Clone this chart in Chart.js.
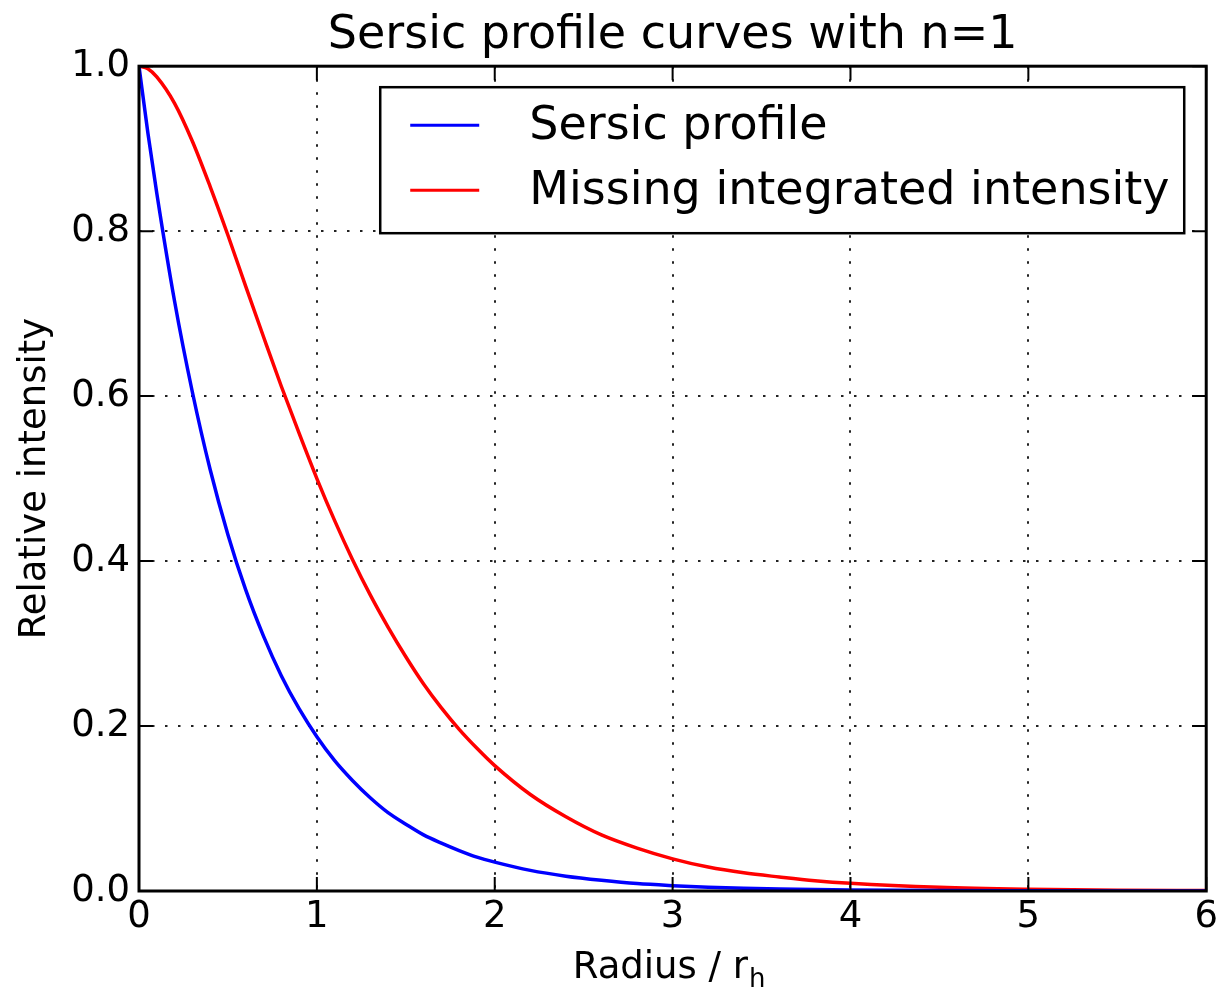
<!DOCTYPE html>
<html lang="en">
  <head>
    <meta charset="UTF-8" />
    <title>Sersic profile curves with n=1</title>
    <script src="https://cdn.jsdelivr.net/npm/chart.js"></script>
    <style>
      html, body { margin: 0; padding: 0; background: #fff; }
      #chart-box { width: 1222px; height: 989px; }
    </style>
    <script>
      const radii = [
        0, 0.05, 0.1, 0.2, 0.3, 0.4, 0.5, 0.6, 0.7, 0.8, 0.9, 1.0,
        1.1, 1.2, 1.3, 1.4, 1.5, 1.6, 1.7, 1.8, 1.9, 2.0,
        2.2, 2.4, 2.6, 2.8, 3.0, 3.2, 3.4, 3.6, 3.8, 4.0,
        4.5, 5.0, 5.5, 6.0,
      ];
      const sersicProfile = [
        1.0, 0.919, 0.846, 0.715, 0.605, 0.511, 0.432, 0.365, 0.309, 0.261, 0.221, 0.187,
        0.158, 0.134, 0.113, 0.095, 0.081, 0.068, 0.058, 0.049, 0.041, 0.035,
        0.025, 0.018, 0.013, 0.009, 0.0065, 0.0046, 0.0033, 0.0024, 0.0017, 0.0012,
        0.0005, 0.0002, 0.0001, 0.0,
      ];
      const missingIntensity = [
        1.0, 0.997, 0.987, 0.955, 0.909, 0.854, 0.795, 0.733, 0.672, 0.612, 0.555, 0.5,
        0.449, 0.402, 0.359, 0.320, 0.284, 0.251, 0.222, 0.196, 0.173, 0.152,
        0.117, 0.090, 0.068, 0.052, 0.039, 0.029, 0.022, 0.017, 0.0125, 0.0093,
        0.0044, 0.0021, 0.001, 0.0005,
      ];
      const seriesNames = ["Sersic profile", "Missing integrated intensity"];
      const seriesColors = ["#0000ff", "#ff0000"];
      const xTicks = [0, 1, 2, 3, 4, 5, 6];
      const yTicks = [0, 0.2, 0.4, 0.6, 0.8, 1.0];

      const FONT = "'DejaVu Sans', sans-serif";

      const toPoints = (ys) => radii.map((r, i) => ({ x: r, y: ys[i] }));

      // frame round the plot plus matplotlib-style inward ticks
      const framePlugin = {
        id: "frame",
        afterDatasetsDraw(chart) {
          const { ctx, chartArea: a, scales } = chart;
          ctx.save();
          ctx.strokeStyle = "#000";
          ctx.lineWidth = 2;
          const tl = 14;
          ctx.beginPath();
          scales.x.ticks.forEach((t) => {
            const px = scales.x.getPixelForValue(t.value);
            ctx.moveTo(px, a.bottom);
            ctx.lineTo(px, a.bottom - tl);
            ctx.moveTo(px, a.top);
            ctx.lineTo(px, a.top + tl);
          });
          scales.y.ticks.forEach((t) => {
            const py = scales.y.getPixelForValue(t.value);
            ctx.moveTo(a.left, py);
            ctx.lineTo(a.left + tl, py);
            ctx.moveTo(a.right, py);
            ctx.lineTo(a.right - tl, py);
          });
          ctx.stroke();
          ctx.lineWidth = 3;
          ctx.strokeRect(a.left, a.top, a.right - a.left, a.bottom - a.top);
          ctx.restore();
        },
      };

      // boxed legend inside the upper right of the plot
      const legendPlugin = {
        id: "boxLegend",
        afterDraw(chart) {
          const { ctx, chartArea: a } = chart;
          const w = 804, h = 146;
          const x0 = a.right - 22 - w;
          const y0 = a.top + 21;
          ctx.save();
          ctx.fillStyle = "#fff";
          ctx.fillRect(x0, y0, w, h);
          ctx.strokeStyle = "#000";
          ctx.lineWidth = 2.5;
          ctx.strokeRect(x0, y0, w, h);
          ctx.font = "46px " + FONT;
          ctx.textBaseline = "middle";
          ctx.textAlign = "left";
          chart.data.datasets.forEach((ds, i) => {
            const cy = y0 + 38 + i * 65;
            ctx.strokeStyle = ds.borderColor;
            ctx.lineWidth = 3;
            ctx.beginPath();
            ctx.moveTo(x0 + 30, cy);
            ctx.lineTo(x0 + 99, cy);
            ctx.stroke();
            ctx.fillStyle = "#000";
            ctx.fillText(ds.label, x0 + 149, cy + 2);
          });
          ctx.restore();
        },
      };

      // axis titles (x one carries a subscript)
      const axisTitlesPlugin = {
        id: "axisTitles",
        afterDraw(chart) {
          const { ctx, chartArea: a } = chart;
          ctx.save();
          ctx.fillStyle = "#000";
          ctx.textBaseline = "alphabetic";
          const main = "Radius / r";
          ctx.font = "37px " + FONT;
          const mw = ctx.measureText(main).width;
          ctx.font = "26px " + FONT;
          const sw = ctx.measureText("h").width;
          const cx = (a.left + a.right) / 2 - 4;
          const start = cx - (mw + sw) / 2;
          ctx.font = "37px " + FONT;
          ctx.textAlign = "left";
          ctx.fillText(main, start, 978);
          ctx.font = "26px " + FONT;
          ctx.fillText("h", start + mw + 1, 987);

          ctx.translate(45, (a.top + a.bottom) / 2);
          ctx.rotate(-Math.PI / 2);
          ctx.font = "37px " + FONT;
          ctx.textAlign = "center";
          ctx.fillText("Relative intensity", 0, 0);
          ctx.restore();
        },
      };

      function drawSersicChart() {
        const datasets = [sersicProfile, missingIntensity].map((ys, i) => ({
          label: seriesNames[i],
          data: toPoints(ys),
          borderColor: seriesColors[i],
          backgroundColor: seriesColors[i],
          borderWidth: 3.5,
          pointRadius: 0,
          fill: false,
          cubicInterpolationMode: "monotone",
        }));

        const gridStyle = { color: "#222", lineWidth: 2, drawTicks: false };
        const dotted = { display: false, dash: [2.5, 10.5] };

        const config = {
          type: "line",
          data: { datasets: datasets },
          options: {
            responsive: false,
            animation: false,
            events: [],
            layout: { padding: { left: 0, right: 15, top: 0, bottom: 0 } },
            plugins: {
              legend: { display: false },
              tooltip: { enabled: false },
              title: {
                display: true,
                text: "Sersic profile curves with n=1",
                color: "#000",
                fullSize: false,
                font: { family: FONT, size: 46, weight: "normal" },
                padding: { top: 8, bottom: 3 },
              },
            },
            scales: {
              x: {
                type: "linear",
                min: 0,
                max: 6,
                afterFit(scale) { scale.height = 98; },
                afterBuildTicks(scale) {
                  scale.ticks = xTicks.map((v) => ({ value: v }));
                },
                ticks: {
                  color: "#000",
                  font: { family: FONT, size: 37 },
                  padding: 4,
                  maxRotation: 0,
                  autoSkip: false,
                  callback: (v) => String(v),
                },
                grid: gridStyle,
                border: dotted,
              },
              y: {
                type: "linear",
                min: 0,
                max: 1,
                afterFit(scale) { scale.width = 139; },
                afterBuildTicks(scale) {
                  scale.ticks = yTicks.map((v) => ({ value: v }));
                },
                ticks: {
                  color: "#000",
                  font: { family: FONT, size: 37 },
                  padding: 9,
                  autoSkip: false,
                  callback: (v) => Number(v).toFixed(1),
                },
                grid: gridStyle,
                border: dotted,
              },
            },
          },
          plugins: [framePlugin, legendPlugin, axisTitlesPlugin],
        };

        const ctx = document.getElementById("sersic-chart");
        new Chart(ctx, config);
      }

      document.addEventListener("DOMContentLoaded", drawSersicChart);
    </script>
  </head>
  <body>
    <div id="chart-box">
      <canvas id="sersic-chart" width="1222" height="989"></canvas>
    </div>
  </body>
</html>
